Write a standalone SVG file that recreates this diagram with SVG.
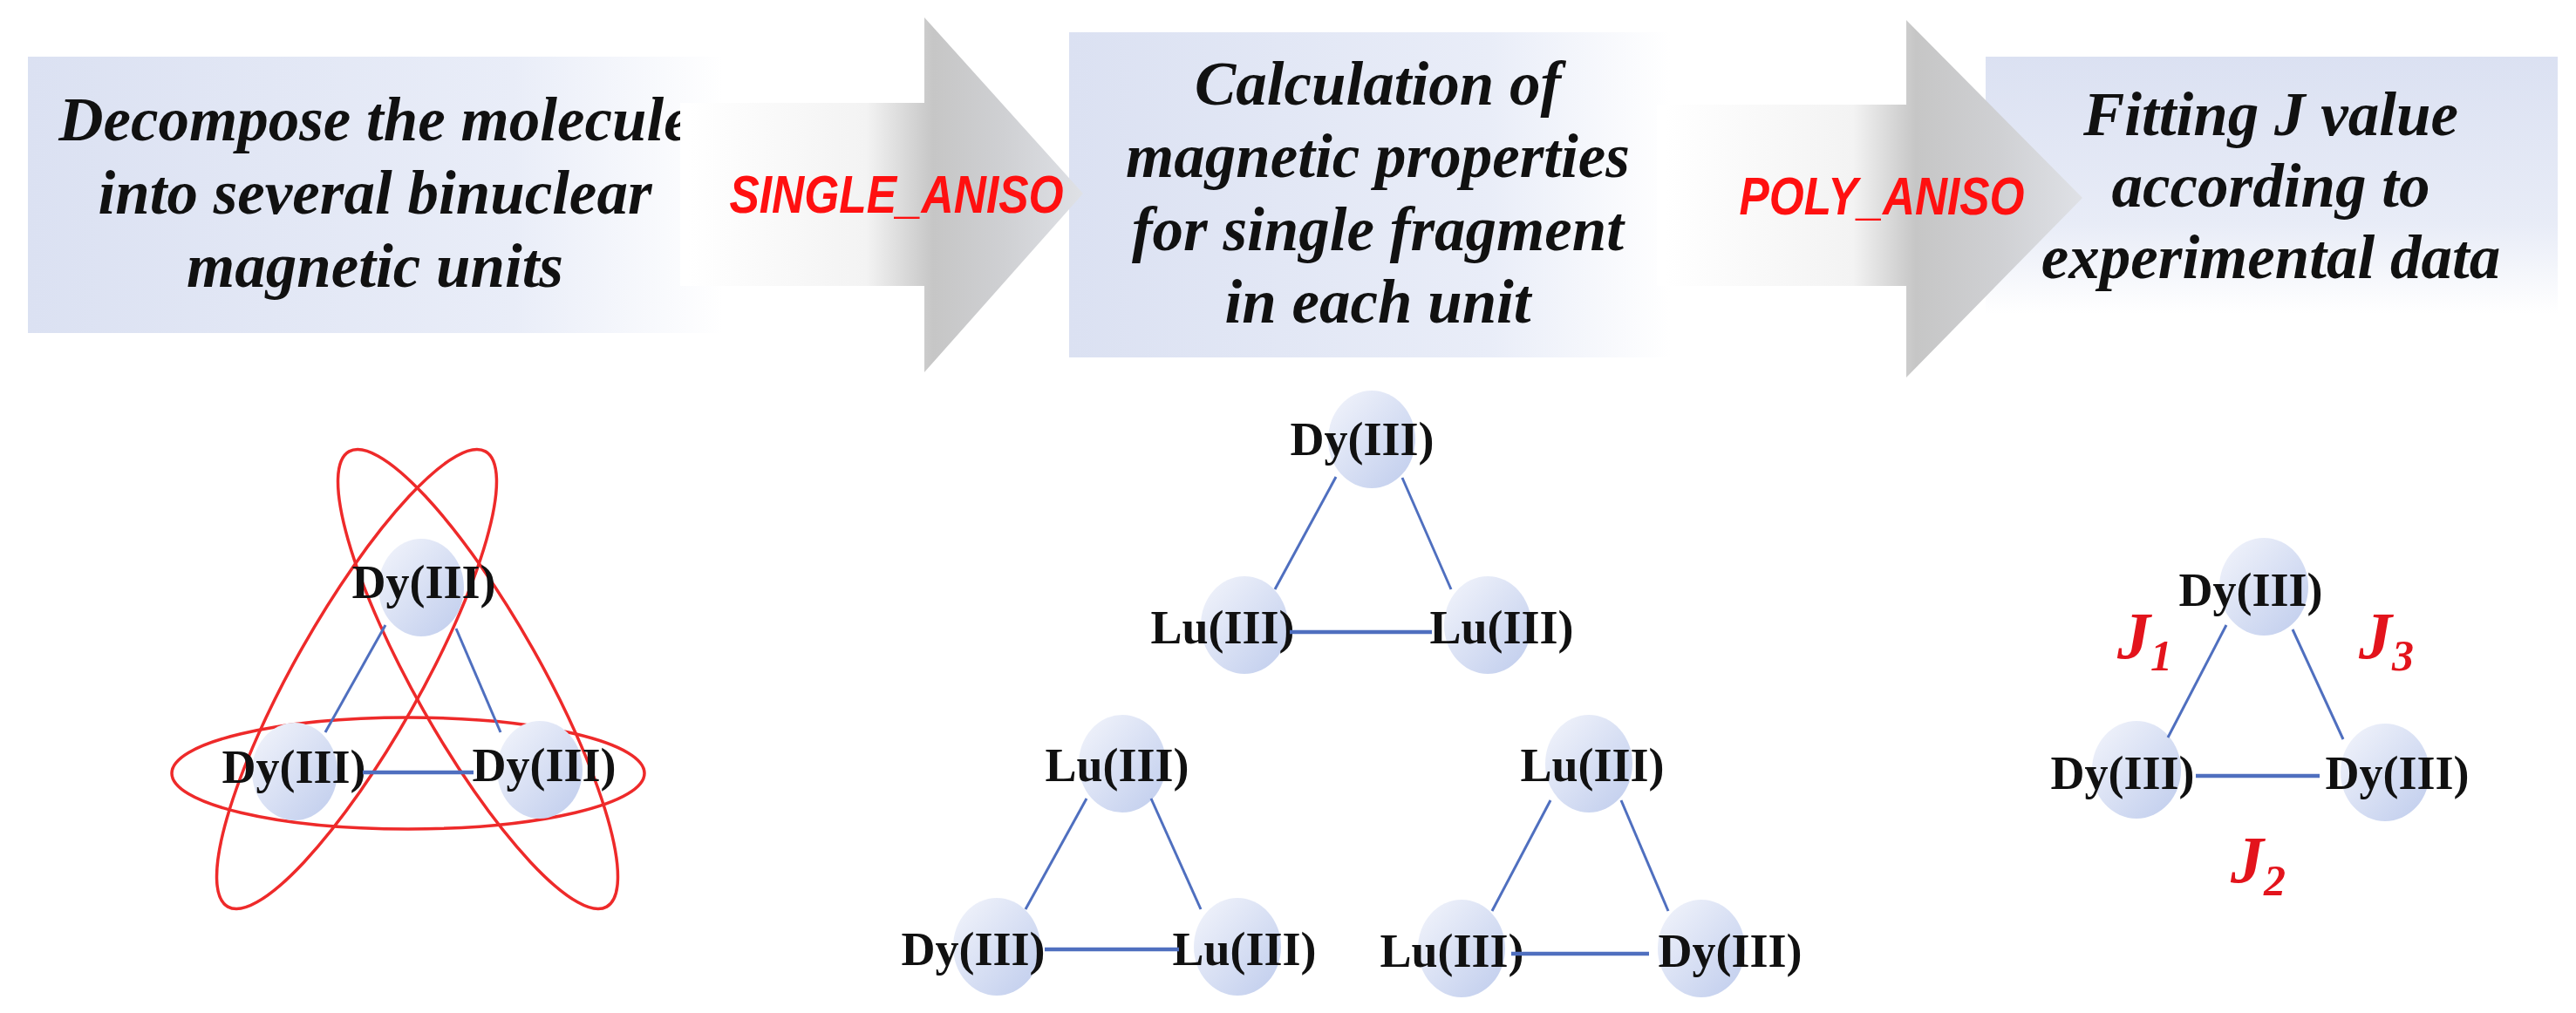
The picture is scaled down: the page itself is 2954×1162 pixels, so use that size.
<svg xmlns="http://www.w3.org/2000/svg" width="2954" height="1162" viewBox="0 0 2954 1162">
<defs>
<linearGradient id="boxH" x1="0" y1="0" x2="1" y2="0">
<stop offset="0" stop-color="#dbe1f2"/>
<stop offset="0.7" stop-color="#e9edf8"/>
<stop offset="1" stop-color="#ffffff"/>
</linearGradient>
<linearGradient id="boxV" x1="0" y1="0" x2="0" y2="1">
<stop offset="0" stop-color="#dbe1f2"/>
<stop offset="0.65" stop-color="#e8ecf7"/>
<stop offset="1" stop-color="#ffffff"/>
</linearGradient>
<linearGradient id="arr1" gradientUnits="userSpaceOnUse" x1="790" y1="0" x2="1242" y2="0">
<stop offset="0" stop-color="#ffffff"/>
<stop offset="0.45" stop-color="#f3f3f3"/>
<stop offset="0.62" stop-color="#c6c6c6"/>
<stop offset="0.8" stop-color="#cfd0d3"/>
<stop offset="1" stop-color="#dfe1e6"/>
</linearGradient>
<linearGradient id="arr2" gradientUnits="userSpaceOnUse" x1="1910" y1="0" x2="2388" y2="0">
<stop offset="0" stop-color="#ffffff"/>
<stop offset="0.45" stop-color="#f3f3f3"/>
<stop offset="0.6" stop-color="#c6c6c6"/>
<stop offset="0.8" stop-color="#cfd0d3"/>
<stop offset="1" stop-color="#dfe1e6"/>
</linearGradient>
<linearGradient id="ball" x1="0.1" y1="0.1" x2="0.9" y2="0.9">
<stop offset="0" stop-color="#eef1fa"/>
<stop offset="1" stop-color="#c4d0ee"/>
</linearGradient>
</defs>
<style>
.big{font-family:"Liberation Serif","Times New Roman",serif;font-style:italic;font-weight:bold;font-size:71px;text-anchor:middle;fill:#111}
.tag{font-family:"Liberation Sans",Arial,sans-serif;font-style:italic;font-weight:bold;font-size:62px;text-anchor:middle;fill:#ff1010}
.ball{fill:url(#ball)}
.lbl{font-family:"Liberation Serif","Times New Roman",serif;font-weight:bold;font-size:54px;text-anchor:middle;fill:#111}
.bond{stroke:#4f6fbf;stroke-width:3;fill:none}
.bond2{stroke:#4f6fbf;stroke-width:4.5;fill:none}
.orbit{fill:none;stroke:#ee2a2a;stroke-width:3.5}
.j{font-family:"Liberation Serif","Times New Roman",serif;font-style:italic;font-weight:bold;font-size:76px;fill:#e3141c}
.sub{font-size:50px}
</style>
<rect width="2954" height="1162" fill="#ffffff"/>

<g id="step1">
<rect x="32" y="65" width="797" height="317" fill="url(#boxH)"/>
<text class="big" x="430" y="161">Decompose the molecule</text>
<text class="big" x="430" y="245">into several binuclear</text>
<text class="big" x="430" y="329">magnetic units</text>
</g>
<g id="step2">
<rect x="1226" y="37" width="689" height="373" fill="url(#boxH)"/>
<text class="big" x="1580" y="120">Calculation of</text>
<text class="big" x="1580" y="203">magnetic properties</text>
<text class="big" x="1580" y="287">for single fragment</text>
<text class="big" x="1580" y="370">in each unit</text>
</g>
<g id="step3">
<rect x="2277" y="65" width="656" height="295" fill="url(#boxV)"/>
<text class="big" x="2604" y="155">Fitting J value</text>
<text class="big" x="2604" y="237">according to</text>
<text class="big" x="2604" y="319">experimental data</text>
</g>

<g id="arrow1">
<path d="M780 118 L1060 118 L1060 20 L1242 222 L1060 427 L1060 328 L780 328 Z" fill="url(#arr1)"/>
<text class="tag" x="1028" y="244" textLength="383" lengthAdjust="spacingAndGlyphs">SINGLE_ANISO</text>
</g>
<g id="arrow2">
<path d="M1900 120 L2186 120 L2186 23 L2388 227 L2186 433 L2186 328 L1900 328 Z" fill="url(#arr2)"/>
<text class="tag" x="2158" y="246" textLength="327" lengthAdjust="spacingAndGlyphs">POLY_ANISO</text>
</g>

<g id="orbits">
<ellipse class="orbit" cx="468" cy="887" rx="271" ry="64"/>
<ellipse class="orbit" cx="409" cy="779" rx="300" ry="72" transform="rotate(-60.5 409 779)"/>
<ellipse class="orbit" cx="548" cy="779" rx="300" ry="72" transform="rotate(60.5 548 779)"/>
</g>

<g id="n-a1"><ellipse class="ball" cx="483" cy="674" rx="49" ry="56"/><text class="lbl" x="486" y="686">Dy(III)</text></g>
<g id="n-a2"><ellipse class="ball" cx="338" cy="885" rx="49" ry="56"/><text class="lbl" x="337" y="898">Dy(III)</text></g>
<g id="n-a3"><ellipse class="ball" cx="619" cy="883" rx="49" ry="56"/><text class="lbl" x="624" y="896">Dy(III)</text></g>

<g id="n-b1"><ellipse class="ball" cx="1573" cy="504" rx="50" ry="56"/><text class="lbl" x="1562" y="522">Dy(III)</text></g>
<g id="n-b2"><ellipse class="ball" cx="1427" cy="717" rx="50" ry="56"/><text class="lbl" x="1402" y="738">Lu(III)</text></g>
<g id="n-b3"><ellipse class="ball" cx="1706" cy="717" rx="50" ry="56"/><text class="lbl" x="1722" y="738">Lu(III)</text></g>

<g id="n-c1"><ellipse class="ball" cx="1287" cy="876" rx="50" ry="56"/><text class="lbl" x="1281" y="896">Lu(III)</text></g>
<g id="n-c2"><ellipse class="ball" cx="1143" cy="1086" rx="50" ry="56"/><text class="lbl" x="1116" y="1107">Dy(III)</text></g>
<g id="n-c3"><ellipse class="ball" cx="1419" cy="1086" rx="50" ry="56"/><text class="lbl" x="1427" y="1107">Lu(III)</text></g>

<g id="n-d1"><ellipse class="ball" cx="1822" cy="876" rx="50" ry="56"/><text class="lbl" x="1826" y="896">Lu(III)</text></g>
<g id="n-d2"><ellipse class="ball" cx="1676" cy="1088" rx="50" ry="56"/><text class="lbl" x="1665" y="1109">Lu(III)</text></g>
<g id="n-d3"><ellipse class="ball" cx="1951" cy="1088" rx="50" ry="56"/><text class="lbl" x="1984" y="1109">Dy(III)</text></g>

<g id="n-e1"><ellipse class="ball" cx="2596" cy="673" rx="51" ry="56"/><text class="lbl" x="2581" y="695">Dy(III)</text></g>
<g id="n-e2"><ellipse class="ball" cx="2450" cy="883" rx="51" ry="56"/><text class="lbl" x="2434" y="905">Dy(III)</text></g>
<g id="n-e3"><ellipse class="ball" cx="2735" cy="886" rx="51" ry="56"/><text class="lbl" x="2749" y="905">Dy(III)</text></g>

<g id="connectors">
<line class="bond" x1="442" y1="717" x2="373" y2="840"/>
<line class="bond" x1="523" y1="721" x2="574" y2="840"/>
<line class="bond2" x1="416" y1="886" x2="543" y2="886"/>
<line class="bond" x1="1532" y1="547" x2="1462" y2="676"/>
<line class="bond" x1="1608" y1="548" x2="1664" y2="676"/>
<line class="bond2" x1="1479" y1="725" x2="1642" y2="725"/>
<line class="bond" x1="1246" y1="916" x2="1176" y2="1043"/>
<line class="bond" x1="1320" y1="916" x2="1377" y2="1043"/>
<line class="bond2" x1="1198" y1="1089" x2="1352" y2="1089"/>
<line class="bond" x1="1778" y1="918" x2="1711" y2="1045"/>
<line class="bond" x1="1859" y1="918" x2="1913" y2="1045"/>
<line class="bond2" x1="1733" y1="1094" x2="1891" y2="1094"/>
<line class="bond" x1="2553" y1="717" x2="2486" y2="846"/>
<line class="bond" x1="2629" y1="722" x2="2687" y2="848"/>
<line class="bond2" x1="2518" y1="890" x2="2660" y2="890"/>
</g>

<g id="jlabels">
<text class="j" x="2428" y="755">J<tspan class="sub" dy="14">1</tspan></text>
<text class="j" x="2705" y="755">J<tspan class="sub" dy="14">3</tspan></text>
<text class="j" x="2558" y="1012">J<tspan class="sub" dy="15">2</tspan></text>
</g>
</svg>
